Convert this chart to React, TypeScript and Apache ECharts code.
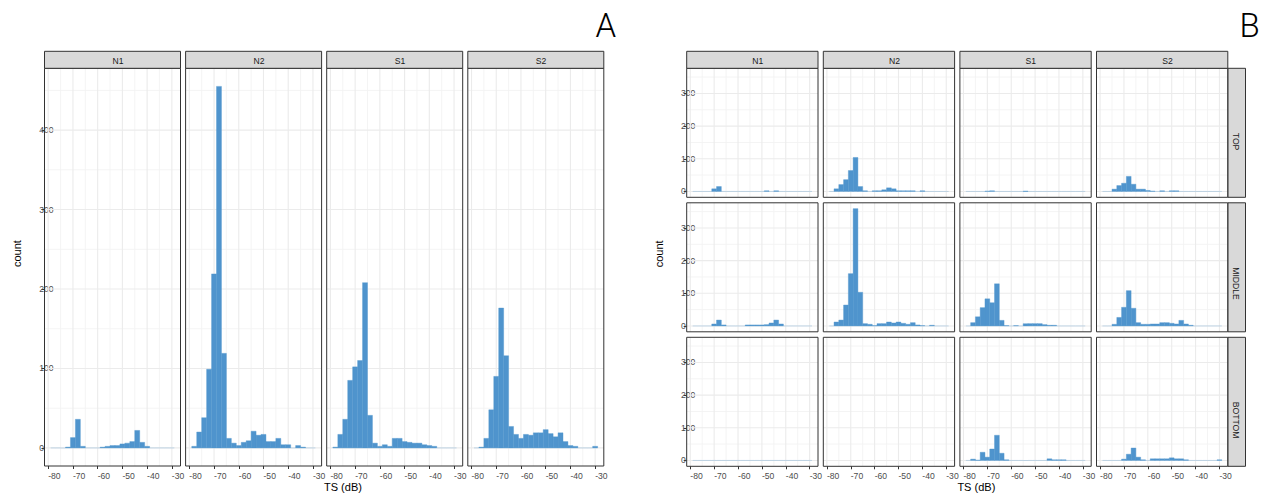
import React, { useEffect, useRef } from "react";
import * as echarts from "echarts";

// ---------- data ----------
const BIN_EDGES = [-79, -77, -75, -73, -71, -69, -67, -65, -63, -61, -59, -57, -55, -53, -51, -49, -47, -45, -43, -41, -39, -37, -35, -33, -31, -29];
const SITES = ["N1", "N2", "S1", "S2"];
const DEPTHS = ["TOP", "MIDDLE", "BOTTOM"];
const X_TICKS = [-80, -70, -60, -50, -40, -30];
const X_MINOR = [-75, -65, -55, -45, -35];
const Y_TICKS_A = [0, 100, 200, 300, 400];
const Y_MINOR_A = [50, 150, 250, 350, 450];
const Y_TICKS_B = [0, 100, 200, 300];
const Y_MINOR_B = [50, 150, 250, 350];

// Panel A: all depths pooled
const A_N1 = [0, 0, 0, 1, 13, 36, 2, 0, 0, 0, 1, 2, 3, 3, 5, 6, 8, 22, 7, 2, 0, 0, 0, 0, 0];
const A_N2 = [2, 20, 38, 99, 219, 455, 119, 12, 6, 3, 7, 9, 21, 16, 17, 8, 8, 12, 4, 4, 0, 3, 1, 0, 0];
const A_S1 = [1, 17, 36, 85, 102, 110, 208, 41, 6, 2, 4, 2, 12, 12, 8, 7, 6, 6, 4, 3, 2, 0, 0, 0, 0];
const A_S2 = [0, 1, 12, 48, 90, 176, 116, 27, 17, 12, 17, 16, 19, 19, 23, 18, 14, 19, 8, 3, 2, 0, 0, 0, 2];

// Panel B: by depth
const B_TOP_N1 = [0, 0, 0, 0, 8, 15, 0, 0, 0, 0, 0, 0, 0, 0, 0, 2, 0, 2, 0, 0, 0, 0, 0, 0, 0];
const B_TOP_N2 = [0, 8, 21, 36, 64, 104, 15, 2, 0, 2, 2, 5, 11, 8, 2, 2, 2, 2, 0, 2, 0, 0, 0, 0, 0];
const B_TOP_S1 = [0, 0, 0, 0, 1, 2, 0, 0, 0, 0, 0, 0, 1, 0, 0, 0, 0, 0, 0, 0, 0, 0, 0, 0, 0];
const B_TOP_S2 = [0, 0, 7, 18, 25, 46, 22, 7, 7, 3, 1, 0, 2, 0, 2, 2, 0, 0, 0, 0, 0, 0, 0, 0, 0];
const B_MID_N1 = [0, 0, 0, 0, 6, 18, 3, 0, 0, 0, 0, 3, 3, 3, 3, 4, 9, 18, 6, 0, 0, 0, 0, 0, 0];
const B_MID_N2 = [0, 12, 18, 64, 160, 359, 103, 7, 5, 1, 7, 7, 12, 9, 12, 8, 5, 10, 3, 1, 0, 2, 0, 0, 0];
const B_MID_S1 = [0, 10, 28, 56, 83, 71, 129, 17, 1, 0, 1, 0, 7, 7, 7, 7, 4, 2, 2, 0, 0, 0, 0, 0, 0];
const B_MID_S2 = [0, 0, 5, 26, 57, 108, 54, 10, 5, 5, 6, 6, 10, 10, 8, 6, 17, 6, 2, 0, 0, 0, 0, 0, 0];
const B_BOT_N1 = [0, 0, 0, 0, 0, 0, 0, 0, 0, 0, 0, 0, 0, 0, 0, 0, 0, 0, 0, 0, 0, 0, 0, 0, 0];
const B_BOT_N2: number[] = [];
const B_BOT_S1 = [0, 4, 1, 25, 10, 35, 77, 22, 2, 0, 0, 0, 0, 0, 0, 0, 0, 5, 2, 2, 2, 0, 0, 0, 0];
const B_BOT_S2 = [0, 0, 0, 0, 4, 19, 38, 10, 2, 0, 5, 5, 5, 5, 8, 5, 5, 2, 0, 0, 0, 0, 0, 0, 2];

const X_TITLE = "TS (dB)";
const Y_TITLE = "count";

// ---------- style / layout ----------
const FONT = "'Liberation Sans', Arial, Helvetica, sans-serif";
const BAR = "#4F94CD";
const BORDER = "#333333";
const STRIP = "#D9D9D9";
const X_MIN = -81.5;
const X_MAX = -26.5;

export default function App() {
  const ref = useRef<HTMLDivElement>(null);

  useEffect(() => {
    if (!ref.current) return;
    const chart = echarts.init(ref.current, undefined, { renderer: "svg" });

    const A_DATA = [A_N1, A_N2, A_S1, A_S2];
    const B_DATA = [
      [B_TOP_N1, B_TOP_N2, B_TOP_S1, B_TOP_S2],
      [B_MID_N1, B_MID_N2, B_MID_S1, B_MID_S2],
      [B_BOT_N1, B_BOT_N2, B_BOT_S1, B_BOT_S2],
    ];
    const maxA = Math.max(...A_DATA.flat());
    const maxB = Math.max(...B_DATA.flat().flat());

    type Panel = {
      left: number; top: number; width: number; height: number;
      counts: number[]; yMin: number; yMax: number;
      yTicks: number[]; yMinor: number[];
      showX: boolean; showY: boolean; yMargin: number;
    };
    const panels: Panel[] = [];

    A_DATA.forEach((counts, i) => {
      panels.push({
        left: 44.5 + i * 141.1, top: 68.3, width: 136, height: 397.7,
        counts, yMin: -0.05 * maxA, yMax: 1.05 * maxA,
        yTicks: Y_TICKS_A, yMinor: Y_MINOR_A,
        showX: true, showY: i === 0, yMargin: 5.2,
      });
    });
    B_DATA.forEach((row, r) => {
      row.forEach((counts, j) => {
        panels.push({
          left: 686.7 + j * 136.6, top: 68.3 + r * 134.5, width: 131.3, height: 129,
          counts, yMin: -0.05 * maxB, yMax: 1.05 * maxB,
          yTicks: Y_TICKS_B, yMinor: Y_MINOR_B,
          showX: r === 2, showY: j === 0, yMargin: 5.7,
        });
      });
    });

    const grid: any[] = [];
    const xAxis: any[] = [];
    const yAxis: any[] = [];
    const series: any[] = [];
    const graphic: any[] = [];

    panels.forEach((p, k) => {
      grid.push({ left: p.left, top: p.top, width: p.width, height: p.height, containLabel: false });
      xAxis.push({
        type: "value", gridIndex: k, min: X_MIN, max: X_MAX,
        axisLine: { show: false, onZero: false },
        splitLine: { show: false },
        axisTick: { show: p.showX, customValues: X_TICKS, length: 3, lineStyle: { color: BORDER, width: 1 } },
        axisLabel: {
          show: p.showX, customValues: X_TICKS, align: "left", margin: 5.5,
          fontSize: 8.6, fontFamily: FONT, color: "#4D4D4D",
        },
      });
      yAxis.push({
        type: "value", gridIndex: k, min: p.yMin, max: p.yMax,
        axisLine: { show: false, onZero: false },
        splitLine: { show: false },
        axisTick: { show: p.showY, customValues: p.yTicks, length: 3, lineStyle: { color: BORDER, width: 1 } },
        axisLabel: {
          show: p.showY, customValues: p.yTicks, align: "left", margin: p.yMargin,
          fontSize: 8.6, fontFamily: FONT, color: "#4D4D4D", verticalAlign: "middle",
        },
      });

      const gridData: number[][] = [];
      X_MINOR.forEach((v) => gridData.push([0, v, 0]));
      p.yMinor.forEach((v) => gridData.push([1, v, 0]));
      X_TICKS.forEach((v) => gridData.push([0, v, 1]));
      p.yTicks.forEach((v) => gridData.push([1, v, 1]));
      series.push({
        type: "custom", xAxisIndex: k, yAxisIndex: k, z: 1, silent: true,
        data: gridData,
        encode: { x: 1, y: 1 },
        renderItem: (params: any, api: any) => {
          const t = api.value(0);
          const v = api.value(1);
          const major = api.value(2) === 1;
          const cs = params.coordSys;
          const style = { stroke: major ? "#EBEBEB" : "#F3F3F3", lineWidth: major ? 1.1 : 0.9 };
          if (t === 0) {
            const x = api.coord([v, 0])[0];
            return { type: "line", shape: { x1: x, y1: cs.y, x2: x, y2: cs.y + cs.height }, style };
          }
          const y = api.coord([-50, v])[1];
          return { type: "line", shape: { x1: cs.x, y1: y, x2: cs.x + cs.width, y2: y }, style };
        },
      });

      const barData = p.counts.map((c, i) => [BIN_EDGES[i], BIN_EDGES[i + 1], c]);
      series.push({
        type: "custom", xAxisIndex: k, yAxisIndex: k, z: 2, silent: true,
        data: barData,
        encode: { x: [0, 1], y: 2 },
        renderItem: (params: any, api: any) => {
          const x0 = api.value(0);
          const x1 = api.value(1);
          const c = api.value(2);
          const p0 = api.coord([x0, 0]);
          const p1 = api.coord([x1, c]);
          if (c === 0) {
            return {
              type: "rect",
              shape: { x: p0[0], y: p0[1] - 0.5, width: p1[0] - p0[0], height: 1 },
              style: { fill: BAR, opacity: 0.3 },
            };
          }
          return {
            type: "rect",
            shape: { x: p0[0], y: p1[1], width: p1[0] - p0[0], height: p0[1] - p1[1] },
            style: { fill: BAR, stroke: BAR, lineWidth: 0.4 },
          };
        },
      });

      // panel border
      graphic.push({
        type: "rect", z: 100, silent: true,
        shape: { x: p.left, y: p.top, width: p.width, height: p.height },
        style: { fill: "none", stroke: BORDER, lineWidth: 1 },
      });
    });

    // top strips
    const stripCols = [
      ...[0, 1, 2, 3].map((i) => ({ left: 44.5 + i * 141.1, width: 136, label: SITES[i] })),
      ...[0, 1, 2, 3].map((j) => ({ left: 686.7 + j * 136.6, width: 131.3, label: SITES[j] })),
    ];
    stripCols.forEach((s) => {
      graphic.push({
        type: "rect", z: 100, silent: true,
        shape: { x: s.left, y: 51.3, width: s.width, height: 17 },
        style: { fill: STRIP, stroke: BORDER, lineWidth: 1 },
      });
      graphic.push({
        type: "text", z: 101, silent: true, x: s.left + s.width / 2, y: 61,
        style: { text: s.label, fontSize: 8.6, fontFamily: FONT, fill: "#1A1A1A", align: "left", verticalAlign: "middle" },
      });
    });
    // right strips (panel B)
    DEPTHS.forEach((d, r) => {
      const top = 68.3 + r * 134.5;
      graphic.push({
        type: "rect", z: 100, silent: true,
        shape: { x: 1228, y: top, width: 17.5, height: 129 },
        style: { fill: STRIP, stroke: BORDER, lineWidth: 1 },
      });
      graphic.push({
        type: "text", z: 101, silent: true, x: 1235.5, y: top + 64.5, rotation: -Math.PI / 2,
        style: { text: d, fontSize: 8.6, fontFamily: FONT, fill: "#1A1A1A", align: "left", verticalAlign: "middle" },
      });
    });

    // axis titles
    const titleStyle = { fontSize: 11, fontFamily: FONT, fill: "#000000", align: "left", verticalAlign: "middle" };
    graphic.push({ type: "text", silent: true, x: 324, y: 486.5, style: { ...titleStyle, text: X_TITLE } });
    graphic.push({ type: "text", silent: true, x: 957.4, y: 486.5, style: { ...titleStyle, text: X_TITLE } });
    graphic.push({ type: "text", silent: true, x: 16.7, y: 267, rotation: Math.PI / 2, style: { ...titleStyle, text: Y_TITLE } });
    graphic.push({ type: "text", silent: true, x: 659.3, y: 267.3, rotation: Math.PI / 2, style: { ...titleStyle, text: Y_TITLE } });

    // panel tags
    const tagStyle = { fontSize: 33, fontFamily: "Roboto, 'Liberation Sans', sans-serif", fontWeight: 300, fill: "#000000", align: "left", verticalAlign: "middle" };
    graphic.push({ type: "text", silent: true, x: 595.5, y: 25.5, style: { ...tagStyle, text: "A" } });
    graphic.push({ type: "text", silent: true, x: 1239.5, y: 25.5, style: { ...tagStyle, text: "B" } });

    chart.setOption({
      animation: false,
      backgroundColor: "#FFFFFF",
      grid, xAxis, yAxis, series, graphic,
    });

    return () => chart.dispose();
  }, []);

  return (
    <div
      ref={ref}
      style={{ position: "fixed", left: 0, top: 0, width: 1262, height: 493 }}
    />
  );
}
